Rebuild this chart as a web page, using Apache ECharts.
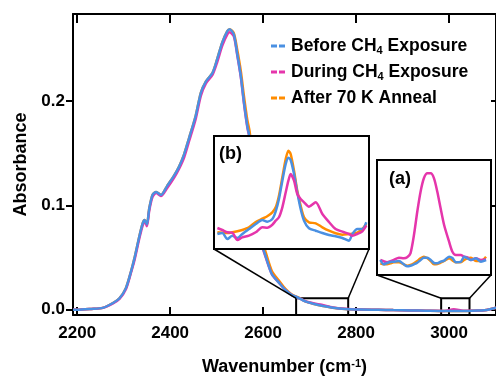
<!DOCTYPE html>
<html><head><meta charset="utf-8">
<script src="https://cdn.jsdelivr.net/npm/echarts@6/dist/echarts.min.js"></script>
<style>html,body{margin:0;padding:0;background:#fff}#c{width:496px;height:381px}</style>
</head><body><div id="c"></div><script>
// ---------- main spectrum ----------
const wavenumber = [2191,2200,2230,2255,2277,2291,2305,2316,2323,2334,2341,2345,2350,2355,2362,2370,2380,2394,2409,2419,2430,2441,2455,2466,2477,2491,2501,2512,2523,2528,2537,2544,2552,2559,2566,2571,2580,2590,2598,2605,2619,2634,2648,2662,2676,2691,2710,2726,2750,2776,2810,2848,2880,2918,2950,2990,3010,3030,3047,3062,3076,3088,3101];
const beforeAbs = [0.0,0.0,0.0008,0.0018,0.0065,0.011,0.021,0.037,0.049,0.071,0.083,0.086,0.082,0.097,0.110,0.113,0.110,0.119,0.129,0.137,0.149,0.165,0.186,0.208,0.219,0.227,0.240,0.256,0.267,0.269,0.264,0.246,0.224,0.198,0.176,0.165,0.128,0.090,0.062,0.052,0.034,0.026,0.019,0.014,0.0115,0.008,0.0055,0.0038,0.002,0.0008,0.0002,0.0,-0.0003,-0.0006,-0.0009,-0.0012,-0.0012,-0.0011,-0.001,-0.0008,-0.0004,0.0006,0.002];
const duringAbs = [0.0,0.0,0.0008,0.0018,0.0062,0.0105,0.020,0.036,0.047,0.069,0.081,0.085,0.080,0.095,0.108,0.112,0.109,0.117,0.127,0.135,0.146,0.162,0.183,0.205,0.217,0.225,0.237,0.253,0.264,0.266,0.262,0.245,0.223,0.197,0.175,0.164,0.127,0.089,0.061,0.051,0.034,0.026,0.019,0.014,0.0115,0.0082,0.006,0.0048,0.0022,0.0009,0.0002,0.0,-0.0003,-0.0006,-0.0009,-0.0011,0.0004,-0.0009,-0.001,-0.0008,-0.0004,0.0006,0.002];
const afterAbs = [0.0,0.0,0.0008,0.0018,0.0065,0.011,0.021,0.037,0.049,0.071,0.083,0.086,0.082,0.097,0.110,0.113,0.110,0.119,0.129,0.137,0.149,0.165,0.186,0.208,0.219,0.227,0.240,0.256,0.267,0.269,0.265,0.250,0.229,0.204,0.182,0.171,0.134,0.095,0.066,0.056,0.037,0.028,0.020,0.0145,0.0118,0.008,0.0055,0.0038,0.002,0.0008,0.0002,0.0,-0.0003,-0.0006,-0.0009,-0.0012,-0.0012,-0.0011,-0.001,-0.0008,-0.0004,0.0006,0.002];
const xTicks = [2200,2400,2600,2800,3000];
const yTicks = [0,0.1,0.2];
const seriesNames = ['Before CH4 Exposure','During CH4 Exposure','After 70 K Anneal'];

// ---------- inset (b) ----------
const insetBWn = [2674.4,2677.9,2681.5,2685.0,2688.6,2692.1,2696.8,2701.6,2706.3,2709.8,2713.4,2715.8,2718.1,2720.5,2722.9,2724.8,2726.4,2728.8,2731.1,2733.5,2735.9,2739.4,2744.2,2748.9,2753.6,2758.3,2763.1,2767.8,2770.2,2773.7,2777.3,2780.1];
const insetBBefore = [0.15,0.16,0.10,0.133,0.11,0.15,0.20,0.25,0.29,0.273,0.30,0.377,0.50,0.683,0.85,0.913,0.89,0.75,0.567,0.40,0.283,0.207,0.183,0.16,0.14,0.127,0.11,0.083,0.15,0.20,0.20,0.267];
const insetBDuring = [0.21,0.19,0.167,0.163,0.09,0.117,0.133,0.167,0.217,0.213,0.243,0.283,0.317,0.417,0.567,0.683,0.75,0.683,0.55,0.50,0.467,0.423,0.467,0.35,0.27,0.20,0.173,0.15,0.133,0.15,0.177,0.233];
const insetBAfter = [0.167,0.163,0.16,0.167,0.177,0.19,0.217,0.27,0.303,0.327,0.367,0.417,0.533,0.717,0.90,0.983,0.95,0.783,0.583,0.433,0.317,0.267,0.257,0.217,0.183,0.157,0.143,0.15,0.153,0.163,0.20,0.25];

// ---------- inset (a) ----------
const insetAWn = [2984.8,2986.6,2988.5,2990.3,2992.1,2994.9,2997.6,2999.4,3001.2,3003.1,3004.9,3006.7,3008.5,3010.4,3012.2,3014.0,3015.8,3017.6,3019.5,3022.2,3024.0,3025.9,3028.6,3030.4,3032.2,3034.1,3036.8,3039.5,3042.3];
const insetABefore = [0.15,0.107,0.12,0.13,0.133,0.14,0.107,0.087,0.093,0.107,0.123,0.15,0.173,0.173,0.15,0.12,0.117,0.133,0.143,0.183,0.17,0.127,0.133,0.183,0.167,0.15,0.167,0.133,0.15];
const insetADuring = [0.15,0.137,0.127,0.137,0.15,0.173,0.167,0.177,0.217,0.40,0.633,0.833,0.967,1.017,1.017,0.967,0.833,0.667,0.50,0.333,0.233,0.20,0.20,0.183,0.177,0.15,0.167,0.15,0.157];
const insetAAfter = [0.117,0.107,0.107,0.117,0.127,0.127,0.107,0.093,0.10,0.117,0.14,0.167,0.183,0.167,0.14,0.107,0.11,0.123,0.14,0.167,0.147,0.127,0.127,0.15,0.167,0.173,0.14,0.14,0.183];

// zoom regions shown in the insets (data units)
const boxB = [2671, 2783];
const boxA = [2983, 3044];
const boxTop = 0.011;

const C_BEFORE = '#4a90e2', C_DURING = '#e535ab', C_AFTER = '#ff8c00';
const FONT = 'Liberation Sans, Arial, Helvetica, sans-serif';

const mainGrid = {left: 73, top: 14, width: 425, height: 303};
const gridB = {left: 214, top: 136, width: 155, height: 113};
const gridA = {left: 377, top: 160, width: 114, height: 115};

const pairs = (xs, ys) => xs.map((x, i) => [x, ys[i]]);
const lbl = {fontFamily: FONT, fontWeight: 'bold', fontSize: 17, color: '#000'};
const blackLine = {show: true, onZero: false, lineStyle: {color: '#000', width: 2}};

function insetAxes(gridIndex, xmin, xmax, ymax) {
  return {
    x: {type: 'value', gridIndex, min: xmin, max: xmax, show: false},
    y: {type: 'value', gridIndex, min: 0, max: ymax, show: false}
  };
}
const iB = insetAxes(1, 2672, 2782, 1.13);
const iA = insetAxes(2, 2983, 3045, 1.15);

function lineSeries(name, xs, ys, color, xi, yi, z, extra) {
  return Object.assign({
    type: 'line', name, data: pairs(xs, ys), xAxisIndex: xi, yAxisIndex: yi,
    showSymbol: false, symbol: 'none', smooth: 0.25, z,
    lineStyle: {color, width: 2.5}, itemStyle: {color}, silent: true, animation: false
  }, extra || {});
}

const chart = echarts.init(document.getElementById('c'), null, {renderer: 'canvas'});
const option = {
  animation: false,
  backgroundColor: '#fff',
  grid: [
    Object.assign({containLabel: false}, mainGrid),
    Object.assign({show: true, backgroundColor: '#fff', borderColor: '#000', borderWidth: 2, z: 5}, gridB),
    Object.assign({show: true, backgroundColor: '#fff', borderColor: '#000', borderWidth: 2, z: 5}, gridA)
  ],
  xAxis: [
    {type: 'value', gridIndex: 0, min: 2191, max: 3101, position: 'bottom',
     axisLine: blackLine,
     axisTick: {show: true, inside: true, length: 8, customValues: xTicks, lineStyle: {color: '#000', width: 2}},
     axisLabel: Object.assign({customValues: xTicks, margin: 10, formatter: v => String(v)}, lbl),
     splitLine: {show: false},
     name: 'Wavenumber (cm{sup|-1})', nameLocation: 'middle', nameGap: 43,
     nameTextStyle: {fontFamily: FONT, fontWeight: 'bold', fontSize: 18, color: '#000',
       rich: {sup: {fontFamily: FONT, fontWeight: 'bold', fontSize: 11, color: '#000', verticalAlign: 'top', lineHeight: 8}}}},
    {type: 'value', gridIndex: 0, min: 2191, max: 3101, position: 'top',
     axisLine: blackLine,
     axisTick: {show: true, inside: true, length: 9, customValues: xTicks, lineStyle: {color: '#000', width: 2}},
     axisLabel: {show: false}, splitLine: {show: false}},
    iB.x, iA.x
  ],
  yAxis: [
    {type: 'value', gridIndex: 0, min: -0.005, max: 0.2835, position: 'left',
     axisLine: blackLine,
     axisTick: {show: true, inside: false, length: 7, customValues: yTicks, lineStyle: {color: '#000', width: 2}},
     axisLabel: Object.assign({customValues: yTicks, margin: 8, formatter: v => v.toFixed(1)}, lbl),
     splitLine: {show: false},
     name: 'Absorbance', nameLocation: 'middle', nameGap: 43,
     nameTextStyle: {fontFamily: FONT, fontWeight: 'bold', fontSize: 18, color: '#000'}},
    {type: 'value', gridIndex: 0, min: -0.005, max: 0.2835, position: 'right',
     axisLine: blackLine,
     axisTick: {show: true, inside: true, length: 5, customValues: yTicks, lineStyle: {color: '#000', width: 2}},
     axisLabel: {show: false}, splitLine: {show: false}},
    iB.y, iA.y
  ],
  legend: {
    orient: 'vertical', left: 266, top: 31, itemWidth: 14, itemHeight: 3, itemGap: 6,
    icon: 'path://M0,0H6V3H0ZM8,0H14V3H8Z',
    selectedMode: false,
    data: seriesNames,
    itemStyle: {borderWidth: 0},
    formatter: n => n.replace('CH4', 'CH{sub|4}'),
    textStyle: {fontFamily: FONT, fontWeight: 'bold', fontSize: 17.5, color: '#000', lineHeight: 20, padding: [0, 0, 0, 1],
      rich: {sub: {fontFamily: FONT, fontWeight: 'bold', fontSize: 11, color: '#000', verticalAlign: 'bottom', lineHeight: 12}}}
  },
  series: [
    lineSeries(seriesNames[2], wavenumber, afterAbs, C_AFTER, 0, 0, 2),
    lineSeries(seriesNames[1], wavenumber, duringAbs, C_DURING, 0, 0, 2),
    lineSeries(seriesNames[0], wavenumber, beforeAbs, C_BEFORE, 0, 0, 2, {
      markArea: {silent: true, itemStyle: {color: 'rgba(0,0,0,0)', borderColor: '#000', borderWidth: 2},
        data: [[{xAxis: boxB[0], yAxis: -0.005}, {xAxis: boxB[1], yAxis: boxTop}],
               [{xAxis: boxA[0], yAxis: -0.005}, {xAxis: boxA[1], yAxis: boxTop}]]}
    }),
    lineSeries('b-after', insetBWn, insetBAfter, C_AFTER, 2, 2, 6),
    lineSeries('b-before', insetBWn, insetBBefore, C_BEFORE, 2, 2, 6),
    lineSeries('b-during', insetBWn, insetBDuring, C_DURING, 2, 2, 6),
    lineSeries('a-after', insetAWn, insetAAfter, C_AFTER, 3, 3, 6),
    lineSeries('a-during', insetAWn, insetADuring, C_DURING, 3, 3, 6),
    lineSeries('a-before', insetAWn, insetABefore, C_BEFORE, 3, 3, 6)
  ]
};
chart.setOption(option);

// connector lines from zoom boxes to insets + inset labels
const px = (x, y) => chart.convertToPixel({xAxisIndex: 0, yAxisIndex: 0}, [x, y]);
const bL = px(boxB[0], boxTop), bR = px(boxB[1], boxTop);
const aL = px(boxA[0], boxTop), aR = px(boxA[1], boxTop);
const seg = (p, q) => ({type: 'line', z: 10, silent: true,
  shape: {x1: p[0], y1: p[1], x2: q[0], y2: q[1]}, style: {stroke: '#000', lineWidth: 1.5}});
const gB = gridB.top + gridB.height, gA = gridA.top + gridA.height;
chart.setOption({graphic: [
  seg(bL, [gridB.left, gB]), seg(bR, [gridB.left + gridB.width, gB]),
  seg(aL, [gridA.left, gA]), seg(aR, [gridA.left + gridA.width, gA]),
  {type: 'text', z: 10, left: gridB.left + 5, top: gridB.top + 9, style: {text: '(b)', font: 'bold 18px ' + FONT, fill: '#000'}},
  {type: 'text', z: 10, left: gridA.left + 12, top: gridA.top + 10, style: {text: '(a)', font: 'bold 18px ' + FONT, fill: '#000'}}
]});
</script></body></html>
